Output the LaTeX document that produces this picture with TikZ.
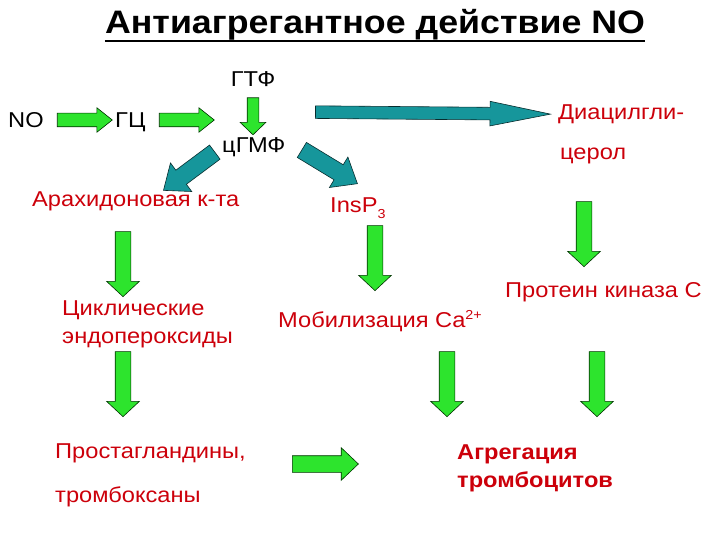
\documentclass[tikz,border=0pt]{standalone}
\usepackage{fontspec}
\setmainfont[FakeStretch=1.1]{Liberation Sans}
\usetikzlibrary{shapes.arrows,calc}
\definecolor{agreen}{RGB}{45,228,45}
\definecolor{ateal}{RGB}{22,150,155}
\definecolor{tred}{RGB}{204,0,10}
\tikzset{
  lbl/.style={inner sep=0pt, font=\fontsize{21.5}{26}\selectfont},
  rlbl/.style={lbl, text=tred},
  blk/.style={lbl, text=black},
  barrow/.style={single arrow, sloped, allow upside down, line width=0.6pt, inner xsep=0pt},
  garrow/.style={barrow, draw=black!80!green, fill=agreen},
  tarrow/.style={barrow, draw=black!70!ateal, fill=ateal},
}
\begin{document}
\begin{tikzpicture}[x=1pt,y=-1pt]
\useasboundingbox (0,0) rectangle (720,540);
% title
\node[anchor=base, inner sep=0pt, font=\bfseries\fontsize{32.5}{38}\selectfont] (title) at (375,34) {Антиагрегантное действие NO};
\draw[line width=2.6pt] ($(title.base west)+(0,7)$) -- ($(title.base east)+(0,7)$);
% labels
\node[blk, anchor=base] (gtf) at (253,87) {ГТФ};
\node[blk, anchor=base west] (no) at (8,128) {NO};
\node[blk, anchor=base west] (gc) at (115,128) {ГЦ};
\node[blk, anchor=base west] (cgmf) at (222,153) {цГМФ};
\node[rlbl, anchor=base west] (dag1) at (558,120) {Диацилгли-};
\node[rlbl, anchor=base west] (dag2) at (560,160) {церол};
\node[rlbl, anchor=base west] (arach) at (32,207) {Арахидоновая к-та};
\node[rlbl, anchor=base west] (ins) at (330,213) {InsP\raisebox{-0.45ex}{\fontsize{13}{15}\selectfont 3}};
\node[rlbl, anchor=base west] (cyc1) at (62,315) {Циклические};
\node[rlbl, anchor=base west] (cyc2) at (62,343) {эндопероксиды};
\node[rlbl, anchor=base west] (mob) at (278,327) {Мобилизация Ca\raisebox{0.65ex}{\fontsize{13}{15}\selectfont 2+}};
\node[rlbl, anchor=base west] (pkc) at (505,297) {Протеин киназа С};
\node[rlbl, anchor=base west] (pg1) at (55,458) {Простагландины,};
\node[rlbl, anchor=base west] (pg2) at (55,502) {тромбоксаны};
\node[rlbl, anchor=base west, font=\bfseries\fontsize{21.5}{26}\selectfont] (agg1) at (457,459) {Агрегация};
\node[rlbl, anchor=base west, font=\bfseries\fontsize{21.5}{26}\selectfont] (agg2) at (457,487) {тромбоцитов};
% arrow end points
\coordinate (g1a) at (53,120);  \coordinate (g1b) at (108,120);
\coordinate (g2a) at (155,120); \coordinate (g2b) at (210,120);
\coordinate (g3a) at (253,95);  \coordinate (g3b) at (253,132);
\coordinate (g4a) at (123,228); \coordinate (g4b) at (123,293);
\coordinate (g5a) at (123,348); \coordinate (g5b) at (123,413);
\coordinate (g6a) at (375,222); \coordinate (g6b) at (375,287);
\coordinate (g7a) at (584,198); \coordinate (g7b) at (584,263);
\coordinate (g8a) at (447,348); \coordinate (g8b) at (447,413);
\coordinate (g9a) at (597,348); \coordinate (g9b) at (597,413);
\coordinate (g10a) at (288,464); \coordinate (g10b) at (354,464);
\coordinate (t1a) at (300,112); \coordinate (t1b) at (535,114);
\coordinate (t2a) at (219,149); \coordinate (t2b) at (168,187);
\coordinate (t3a) at (297,147); \coordinate (t3b) at (353,181);
% green arrows
\path (g1a) -- node[garrow, minimum height=55pt, inner ysep=6.5pt, single arrow head extend=5.5pt, single arrow tip angle=77] {} (g1b);
\path (g2a) -- node[garrow, minimum height=55pt, inner ysep=6.5pt, single arrow head extend=5.5pt, single arrow tip angle=77] {} (g2b);
\path (g3a) -- node[garrow, minimum height=37pt, inner ysep=5.5pt, single arrow head extend=7pt, single arrow tip angle=92] {} (g3b);
\foreach \g in {g4,g5,g6,g7,g8,g9}{
  \path (\g a) -- node[garrow, minimum height=65pt, inner ysep=7.5pt, single arrow head extend=8.5pt, single arrow tip angle=94] {} (\g b);
}
\path (g10a) -- node[garrow, minimum height=66pt, inner ysep=8pt, single arrow head extend=8pt, single arrow tip angle=87] {} (g10b);
% teal arrows
\path (t1a) -- node[tarrow, minimum height=235pt, inner ysep=6pt, single arrow head extend=6pt, single arrow tip angle=23] {} (t1b);
\path (t2a) -- node[tarrow, minimum height=64pt, inner ysep=8.5pt, single arrow head extend=9pt, single arrow tip angle=78] {} (t2b);
\path (t3a) -- node[tarrow, minimum height=65pt, inner ysep=8.5pt, single arrow head extend=9pt, single arrow tip angle=78] {} (t3b);
\end{tikzpicture}
\end{document}
